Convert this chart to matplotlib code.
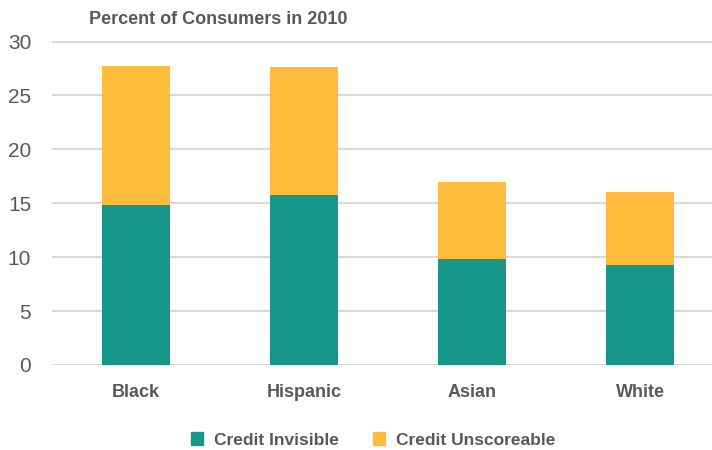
import matplotlib.pyplot as plt
from matplotlib.patches import Patch

# Data (percent of consumers, 2010)
groups = ['Black', 'Hispanic', 'Asian', 'White']
credit_invisible = [14.8, 15.8, 9.8, 9.3]
credit_unscoreable = [12.9, 11.8, 7.2, 6.7]
y_ticks = [0, 5, 10, 15, 20, 25, 30]

teal = '#19968B'
yellow = '#FFBC3C'
grey_text = '#595959'

plt.rcParams['font.family'] = ['Liberation Sans', 'DejaVu Sans']

fig = plt.figure(figsize=(7.12, 4.5), dpi=100)
ax = fig.add_axes([52 / 712, 85 / 450, 672 / 712, 324 / 450])

x = list(range(len(groups)))
ax.bar(x, credit_invisible, width=0.4, color=teal, zorder=3)
ax.bar(x, credit_unscoreable, width=0.4, bottom=credit_invisible, color=yellow, zorder=3)

ax.set_xlim(-0.5, 3.5)
ax.set_ylim(0, 30.05)
ax.set_yticks(y_ticks)
ax.set_xticks(x)
ax.set_xticklabels(groups, fontsize=13, fontweight='bold', color=grey_text)
ax.tick_params(axis='y', labelsize=15, labelcolor=grey_text, length=0, pad=15)
ax.tick_params(axis='x', length=0, pad=14)
ax.grid(axis='y', color='#D9D9D9', linewidth=1.5, zorder=0)
for spine in ax.spines.values():
    spine.set_visible(False)

fig.text(218 / 712, 1 - 19 / 450, 'Percent of Consumers in 2010', ha='center', va='center',
         fontsize=13, fontweight='bold', color=grey_text)

handles = [Patch(color=teal, label='Credit Invisible'), Patch(color=yellow, label='Credit Unscoreable')]
fig.legend(handles=handles, loc='center', bbox_to_anchor=(373 / 712, 1 - 440 / 450), ncol=2,
           frameon=False, prop={'size': 12.5, 'weight': 'bold'}, handlelength=0.7, handleheight=0.7,
           handletextpad=0.6, columnspacing=2.0, labelcolor=grey_text)

plt.savefig('out.png', dpi=100)
